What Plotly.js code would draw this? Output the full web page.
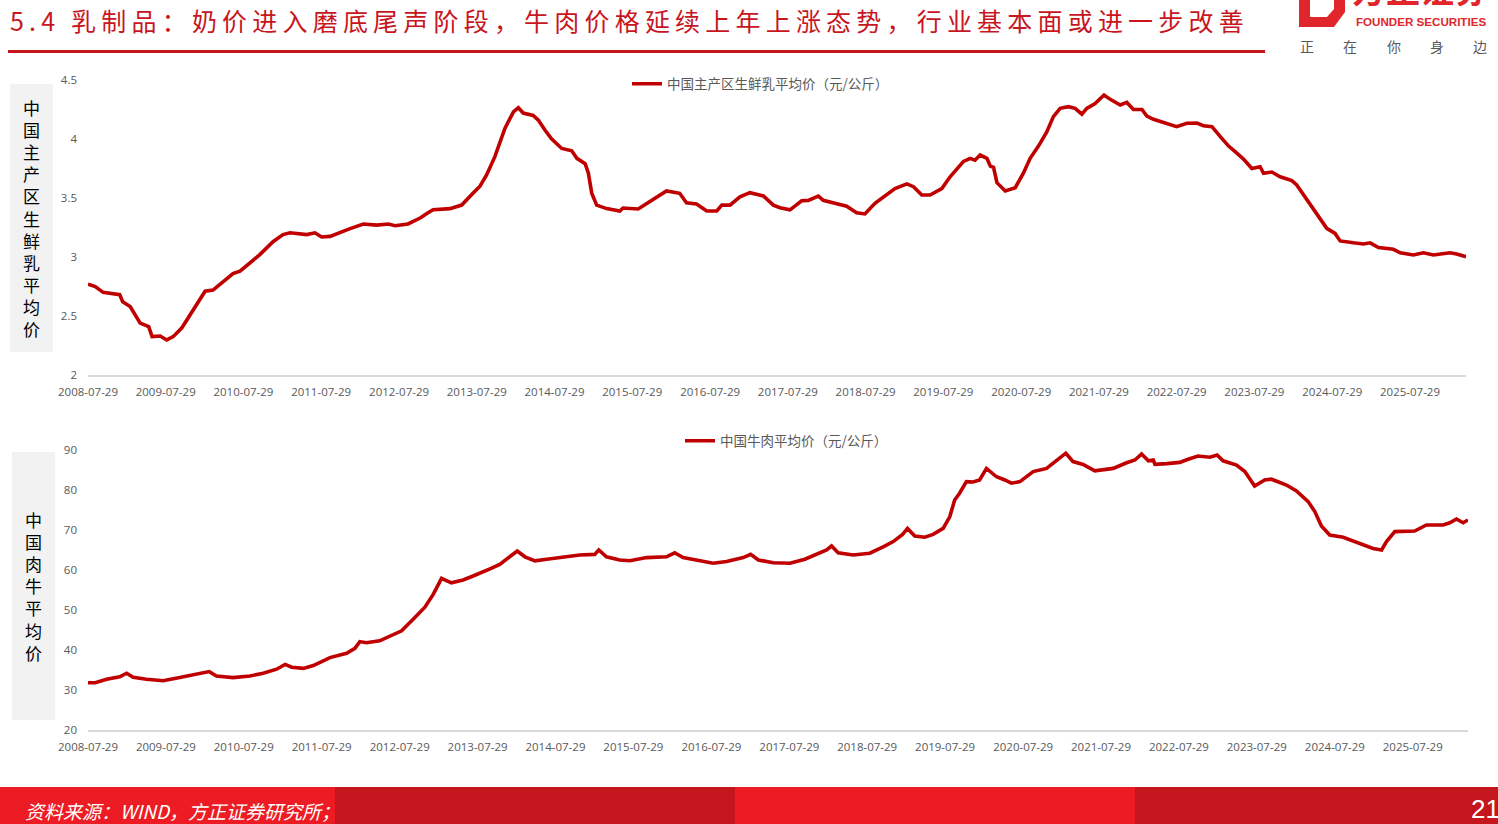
<!DOCTYPE html>
<html>
<head>
<meta charset="utf-8">
<script src="https://cdn.plot.ly/plotly-3.0.1.min.js"></script>
<style>
  html, body { margin: 0; padding: 0; background: #fff; }
  #chart { width: 1498px; height: 824px; }
</style>
</head>
<body>
<div id="chart"></div>
<script>
// 页面尺寸
const W = 1498, H = 824;
const X = p => p / W;
const Y = p => 1 - p / H;

// 横轴刻度
const tickDates = ['2008-07-29', '2009-07-29', '2010-07-29', '2011-07-29', '2012-07-29', '2013-07-29',
  '2014-07-29', '2015-07-29', '2016-07-29', '2017-07-29', '2018-07-29', '2019-07-29',
  '2020-07-29', '2021-07-29', '2022-07-29', '2023-07-29', '2024-07-29', '2025-07-29'];

// 中国主产区生鲜乳平均价（元/公斤）
const milkDates = ['2008-07-29', '2008-09-01', '2008-10-08', '2008-12-25', '2009-01-08', '2009-02-12',
  '2009-03-31', '2009-05-10', '2009-05-26', '2009-07-03', '2009-08-03', '2009-09-02', '2009-10-13',
  '2010-01-06', '2010-01-30', '2010-03-08', '2010-04-10', '2010-06-10', '2010-07-13', '2010-10-14',
  '2010-12-15', '2011-01-31', '2011-03-05', '2011-05-22', '2011-06-30', '2011-07-31', '2011-09-09',
  '2011-10-26', '2011-12-12', '2012-02-12', '2012-04-15', '2012-06-09', '2012-07-10', '2012-09-09',
  '2012-11-05', '2012-12-12', '2013-01-05', '2013-03-25', '2013-05-19', '2013-07-11', '2013-08-13',
  '2013-09-13', '2013-10-22', '2013-12-08', '2014-01-17', '2014-02-09', '2014-03-04', '2014-04-20',
  '2014-05-14', '2014-06-14', '2014-07-16', '2014-09-01', '2014-10-18', '2014-11-11', '2014-12-20',
  '2015-01-04', '2015-01-20', '2015-02-12', '2015-03-31', '2015-06-01', '2015-06-16', '2015-08-26',
  '2015-10-19', '2015-12-05', '2016-01-06', '2016-03-08', '2016-04-09', '2016-05-26', '2016-07-13',
  '2016-08-29', '2016-09-22', '2016-10-30', '2016-12-16', '2017-02-01', '2017-04-05', '2017-05-22',
  '2017-06-22', '2017-08-08', '2017-10-02', '2017-11-02', '2017-12-19', '2018-01-11', '2018-03-15',
  '2018-05-01', '2018-06-17', '2018-07-26', '2018-09-11', '2018-10-20', '2018-12-14', '2019-02-08',
  '2019-03-11', '2019-04-19', '2019-05-28', '2019-07-22', '2019-08-30', '2019-11-01', '2019-12-02',
  '2019-12-25', '2020-01-18', '2020-02-19', '2020-03-06', '2020-03-21', '2020-04-06', '2020-05-15',
  '2020-07-01', '2020-08-08', '2020-09-09', '2020-10-18', '2020-11-26', '2020-12-27', '2021-01-28',
  '2021-03-08', '2021-04-08', '2021-05-10', '2021-06-02', '2021-07-11', '2021-08-22', '2021-09-20',
  '2021-11-06', '2021-12-07', '2022-01-07', '2022-02-16', '2022-03-11', '2022-04-11', '2022-05-21',
  '2022-07-29', '2022-09-15', '2022-11-01', '2022-12-02', '2023-01-11', '2023-02-19', '2023-03-30',
  '2023-05-01', '2023-06-08', '2023-07-17', '2023-08-25', '2023-09-10', '2023-10-19', '2023-11-27',
  '2024-01-21', '2024-02-13', '2024-04-01', '2024-05-17', '2024-07-03', '2024-08-11', '2024-09-04',
  '2024-11-05', '2024-12-22', '2025-01-23', '2025-03-03', '2025-05-12', '2025-06-13', '2025-08-14',
  '2025-09-30', '2025-11-16', '2025-12-26', '2026-02-02', '2026-03-05', '2026-04-18'];
const milkPrice = [2.77, 2.75, 2.70, 2.68, 2.62, 2.58,
  2.44, 2.41, 2.325, 2.33, 2.297, 2.325, 2.40,
  2.65, 2.71, 2.72, 2.77, 2.86, 2.88, 3.02,
  3.13, 3.19, 3.205, 3.19, 3.205, 3.17, 3.175,
  3.21, 3.24, 3.28, 3.27, 3.28, 3.265, 3.28,
  3.33, 3.375, 3.40, 3.41, 3.44, 3.54, 3.60,
  3.695, 3.85, 4.09, 4.23, 4.265, 4.22, 4.20,
  4.16, 4.076, 4.00, 3.92, 3.90, 3.836, 3.79,
  3.71, 3.54, 3.44, 3.41, 3.39, 3.415, 3.407,
  3.47, 3.525, 3.56, 3.54, 3.46, 3.45, 3.39,
  3.39, 3.44, 3.44, 3.51, 3.545, 3.517, 3.44,
  3.418, 3.40, 3.477, 3.48, 3.517, 3.48, 3.455,
  3.43, 3.375, 3.365, 3.455, 3.51, 3.58, 3.62,
  3.596, 3.525, 3.525, 3.58, 3.68, 3.81, 3.836,
  3.82, 3.864, 3.836, 3.77, 3.76, 3.63, 3.56,
  3.587, 3.71, 3.836, 3.94, 4.06, 4.19, 4.26,
  4.274, 4.26, 4.21, 4.26, 4.30, 4.373, 4.336,
  4.288, 4.31, 4.25, 4.25, 4.195, 4.167, 4.147,
  4.105, 4.133, 4.135, 4.113, 4.105, 4.02, 3.94,
  3.89, 3.83, 3.75, 3.765, 3.71, 3.72, 3.68,
  3.647, 3.61, 3.483, 3.364, 3.243, 3.20, 3.136,
  3.12, 3.11, 3.12, 3.08, 3.065, 3.036, 3.017,
  3.036, 3.017, 3.03, 3.036, 3.025, 3.003];

// 中国牛肉平均价（元/公斤）
const beefDates = ['2008-07-29', '2008-09-01', '2008-10-24', '2008-12-25', '2009-01-26', '2009-02-26',
  '2009-04-29', '2009-07-16', '2009-10-02', '2009-12-04', '2010-01-20', '2010-02-17', '2010-03-23',
  '2010-06-09', '2010-08-27', '2010-10-28', '2010-12-30', '2011-02-08', '2011-03-11', '2011-05-04',
  '2011-06-20', '2011-09-06', '2011-11-23', '2012-01-01', '2012-01-24', '2012-02-24', '2012-04-26',
  '2012-06-20', '2012-08-07', '2012-09-30', '2012-11-24', '2013-01-02', '2013-02-10', '2013-03-28',
  '2013-05-22', '2013-07-08', '2013-09-01', '2013-09-25', '2013-11-10', '2013-12-27', '2014-01-31',
  '2014-03-08', '2014-04-24', '2014-06-18', '2014-09-03', '2014-11-20', '2015-01-29', '2015-02-17',
  '2015-03-25', '2015-05-26', '2015-07-13', '2015-09-29', '2016-01-01', '2016-02-08', '2016-03-18',
  '2016-06-04', '2016-08-06', '2016-10-08', '2016-12-25', '2017-01-29', '2017-03-06', '2017-05-15',
  '2017-08-01', '2017-10-10', '2017-12-04', '2018-01-20', '2018-02-12', '2018-03-15', '2018-05-24',
  '2018-08-10', '2018-10-12', '2018-11-28', '2019-01-11', '2019-02-03', '2019-03-09', '2019-04-25',
  '2019-06-03', '2019-07-20', '2019-08-20', '2019-09-12', '2019-10-05', '2019-11-06', '2019-12-07',
  '2020-01-07', '2020-02-08', '2020-03-26', '2020-05-04', '2020-06-04', '2020-07-14', '2020-09-14',
  '2020-11-16', '2021-01-17', '2021-02-14', '2021-03-20', '2021-05-06', '2021-06-30', '2021-09-24',
  '2021-11-26', '2022-01-04', '2022-02-04', '2022-03-08', '2022-03-31', '2022-04-08', '2022-06-02',
  '2022-08-02', '2022-09-10', '2022-10-27', '2022-12-21', '2023-01-24', '2023-02-21', '2023-04-25',
  '2023-06-03', '2023-07-19', '2023-09-04', '2023-10-06', '2023-12-15', '2024-01-31', '2024-03-26',
  '2024-04-26', '2024-05-27', '2024-07-05', '2024-09-06', '2024-10-23', '2024-12-24', '2025-01-24',
  '2025-03-05', '2025-03-28', '2025-05-06', '2025-07-15', '2025-08-07', '2025-10-01', '2025-12-18',
  '2026-01-19', '2026-02-19', '2026-03-22', '2026-04-14'];
const beefPrice = [31.8, 31.8, 32.7, 33.3, 34.2, 33.2,
  32.7, 32.3, 33.1, 33.75, 34.2, 34.6, 33.5,
  33.1, 33.5, 34.2, 35.2, 36.4, 35.7, 35.4,
  36.1, 38.1, 39.2, 40.4, 42.1, 41.8, 42.3,
  43.75, 44.8, 47.7, 50.7, 53.9, 57.9, 56.8,
  57.5, 58.5, 59.6, 60.3, 61.4, 63.3, 64.75,
  63.3, 62.3, 62.7, 63.3, 63.75, 63.9, 65.0,
  63.3, 62.5, 62.3, 63.1, 63.3, 64.3, 63.1,
  62.3, 61.7, 62.1, 63.1, 63.9, 62.5, 61.8,
  61.7, 62.7, 63.9, 65.0, 66.0, 64.3, 63.75,
  64.2, 65.8, 67.1, 68.9, 70.4, 68.5, 68.2,
  68.9, 70.4, 73.3, 77.5, 79.2, 82.1, 82.0,
  82.5, 85.4, 83.3, 82.5, 81.7, 82.1, 84.6,
  85.4, 88.2, 89.2, 87.1, 86.4, 84.8, 85.4,
  86.8, 87.5, 89.0, 87.3, 87.5, 86.4, 86.6,
  86.9, 87.7, 88.5, 88.2, 88.75, 87.3, 86.25,
  84.6, 81.0, 82.5, 82.7, 81.25, 79.75, 77.1,
  74.6, 71.0, 68.75, 68.2, 67.3, 66.0, 65.4,
  65.0, 67.1, 69.6, 69.75, 69.75, 71.25, 71.25,
  71.8, 72.75, 71.8, 72.5];

// 页面文字
const pageTitle = '5.4 乳制品：奶价进入磨底尾声阶段，牛肉价格延续上年上涨态势，行业基本面或进一步改善';
const milkName = '中国主产区生鲜乳平均价（元/公斤）';
const beefName = '中国牛肉平均价（元/公斤）';
const milkAxisLabel = '中国主产区生鲜乳平均价';
const beefAxisLabel = '中国肉牛平均价';
const sourceNote = '资料来源：WIND，方正证券研究所；';
const sloganChars = ['正', '在', '你', '身', '边'];

const RED_LINE = '#C00000';
const RED_BRAND = '#C8161E';
const GREY_TEXT = '#595959';
const tickFont = { family: 'Open Sans, Liberation Sans, sans-serif', size: 11.5, color: GREY_TEXT };
const cjk = 'Noto Sans CJK SC, Noto Sans, sans-serif';

const traces = [
  {
    type: 'scatter', mode: 'lines', name: milkName,
    x: milkDates, y: milkPrice, xaxis: 'x', yaxis: 'y',
    line: { color: RED_LINE, width: 3.6 }, legend: 'legend'
  },
  {
    type: 'scatter', mode: 'lines', name: beefName,
    x: beefDates, y: beefPrice, xaxis: 'x2', yaxis: 'y2',
    line: { color: RED_LINE, width: 3.6 }, legend: 'legend2'
  }
];

function xAxis(domain, range, anchor) {
  return {
    type: 'date', domain: domain, range: range, anchor: anchor,
    tickmode: 'array', tickvals: tickDates, ticktext: tickDates, tickangle: 0,
    showgrid: false, zeroline: false, showline: true, linecolor: '#D9D9D9', linewidth: 1.5,
    ticks: '', tickfont: tickFont, ticklabelstandoff: 6, fixedrange: true
  };
}

function yAxis(domain, range, dtick, anchor) {
  return {
    domain: domain, range: range, dtick: dtick, anchor: anchor,
    showgrid: false, zeroline: false, showline: false, ticks: '',
    tickfont: tickFont, ticklabelstandoff: 10, fixedrange: true
  };
}

function rect(x0, y0, x1, y1, color) {
  return {
    type: 'rect', xref: 'paper', yref: 'paper', layer: 'below',
    x0: X(x0), x1: X(x1), y0: Y(y1), y1: Y(y0),
    fillcolor: color, line: { width: 0 }
  };
}

function pathShape(points, color) {
  const d = points.map((p, i) => (i ? 'L' : 'M') + X(p[0]) + ',' + Y(p[1])).join(' ') + ' Z';
  return { type: 'path', xref: 'paper', yref: 'paper', path: d, fillcolor: color, line: { width: 0 } };
}

function vertical(text) {
  return text.split('').join('<br>');
}

const shapes = [
  rect(8, 50, 1265, 53, RED_BRAND),
  rect(10, 84, 53, 352, '#F2F2F2'),
  rect(12, 452, 55, 720, '#F2F2F2'),
  rect(0, 787, 335, 824, '#ED1C24'),
  rect(335, 787, 735, 824, '#C4161C'),
  rect(735, 787, 1135, 824, '#ED1C24'),
  rect(1135, 787, 1498, 824, '#C4161C'),
  pathShape([[1299, 0], [1345, 0], [1345, 12], [1334, 27], [1299, 27]], '#E0262B'),
  pathShape([[1310, 0], [1334, 0], [1334, 9], [1327, 17], [1310, 17]], '#FFFFFF')
];

const annotations = [
  {
    text: pageTitle, xref: 'paper', yref: 'paper', x: X(8), y: Y(20),
    xanchor: 'left', yanchor: 'middle', align: 'left', showarrow: false,
    font: { family: cjk, size: 25, color: RED_BRAND }
  },
  {
    text: '方正证券', xref: 'paper', yref: 'paper', x: X(1350), y: Y(15),
    xanchor: 'left', yanchor: 'bottom', showarrow: false,
    font: { family: cjk, size: 34, color: '#E0262B', weight: 'bold' }
  },
  {
    text: 'FOUNDER SECURITIES', xref: 'paper', yref: 'paper', x: X(1421), y: Y(22),
    xanchor: 'center', yanchor: 'middle', showarrow: false,
    font: { family: 'Liberation Sans, Arial, sans-serif', size: 11.6, color: '#E0262B', weight: 'bold' }
  },
  {
    text: vertical(milkAxisLabel), xref: 'paper', yref: 'paper', x: X(31.5), y: Y(218),
    xanchor: 'center', yanchor: 'middle', showarrow: false,
    font: { family: cjk, size: 17, color: '#000000' }
  },
  {
    text: vertical(beefAxisLabel), xref: 'paper', yref: 'paper', x: X(33.5), y: Y(586),
    xanchor: 'center', yanchor: 'middle', showarrow: false,
    font: { family: cjk, size: 17, color: '#000000' }
  },
  {
    text: sourceNote, xref: 'paper', yref: 'paper', x: X(23), y: Y(810),
    xanchor: 'left', yanchor: 'middle', showarrow: false,
    font: { family: cjk, size: 19, color: '#FFFFFF', style: 'italic' }
  },
  {
    text: '21', xref: 'paper', yref: 'paper', x: X(1469), y: Y(809),
    xanchor: 'left', yanchor: 'middle', showarrow: false,
    font: { family: 'Liberation Sans, Arial, sans-serif', size: 26, color: '#FFFFFF' }
  }
];

sloganChars.forEach((ch, i) => {
  annotations.push({
    text: ch, xref: 'paper', yref: 'paper', x: X(1307 + i * 43.3), y: Y(46),
    xanchor: 'center', yanchor: 'middle', showarrow: false,
    font: { family: cjk, size: 14, color: GREY_TEXT }
  });
});

const legendStyle = {
  orientation: 'h', xanchor: 'left', yanchor: 'middle',
  bgcolor: 'rgba(0,0,0,0)', borderwidth: 0,
  font: { family: cjk, size: 13.5, color: GREY_TEXT }
};

const layout = {
  width: W, height: H,
  margin: { l: 0, r: 0, t: 0, b: 0 },
  paper_bgcolor: '#FFFFFF', plot_bgcolor: 'rgba(0,0,0,0)',
  showlegend: true,
  legend: Object.assign({ x: X(627), y: Y(84) }, legendStyle),
  legend2: Object.assign({ x: X(680), y: Y(441) }, legendStyle),
  xaxis: xAxis([X(88), X(1466)], ['2008-07-29', '2026-04-18'], 'y'),
  yaxis: yAxis([Y(375), Y(80)], [2, 4.5], 0.5, 'x'),
  xaxis2: xAxis([X(88), X(1468)], ['2008-07-29', '2026-04-14'], 'y2'),
  yaxis2: yAxis([Y(730), Y(450)], [20, 90], 10, 'x2'),
  shapes: shapes,
  annotations: annotations
};

Plotly.newPlot('chart', traces, layout, { displayModeBar: false, staticPlot: true }).then(gd => {
  // 标题字距
  gd.querySelectorAll('.annotation-text').forEach(el => {
    if (el.textContent.indexOf('5.4') === 0) el.style.letterSpacing = '5.2px';
  });
});
</script>
</body>
</html>
